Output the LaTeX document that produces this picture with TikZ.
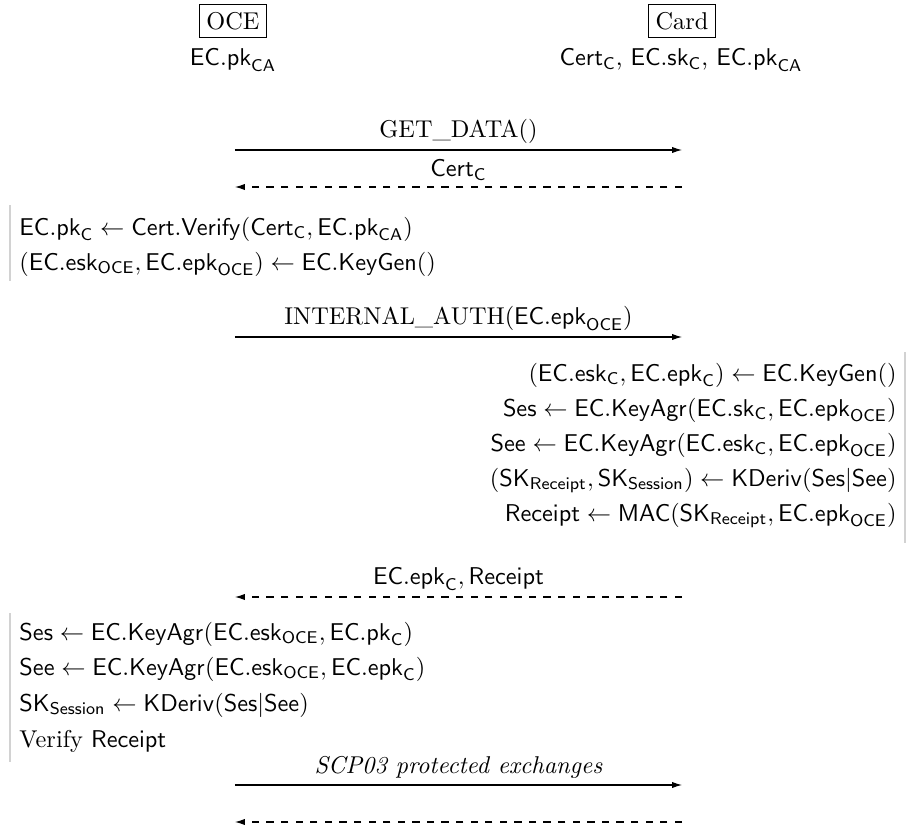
\documentclass[tikz,border=0pt]{standalone}
\usetikzlibrary{arrows.meta}
\newcommand{\cs}[1]{\mathsf{#1}}
\tikzset{
  party/.style={draw, inner sep=3pt, font=\rmfamily},
  msg/.style={line width=0.42pt, -{Latex[length=4.1pt,width=2.6pt]}},
  reply/.style={msg, dashed},
  lbl/.style={midway, above, inner sep=2.5pt},
  lstep/.style={anchor=base west, inner sep=0pt},
  rstep/.style={anchor=base east, inner sep=0pt},
  bar/.style={gray!35, line width=1pt}
}
\begin{document}
\begin{tikzpicture}[x=0.4115pt,y=-0.4115pt]
\useasboundingbox (0,0) rectangle (907,828);
% parties
\node[party] (oce) at (233,21) {OCE};
\node (oceinit) at (233,60) {$\cs{EC.pk}_{\cs{CA}}$};
\node[party] (card) at (682,21) {Card};
\node (cardinit) at (681,60) {$\cs{Cert}_{\cs{C}}$, $\cs{EC.sk}_{\cs{C}}$, $\cs{EC.pk}_{\cs{CA}}$};
% message 1
\coordinate (m1l) at (235,150); \coordinate (m1r) at (682,150);
\draw[msg] (m1l) -- (m1r) node[lbl] {GET\_DATA()};
\coordinate (m2l) at (235,187); \coordinate (m2r) at (682,187);
\draw[reply] (m2r) -- (m2l) node[lbl] {$\cs{Cert}_{\cs{C}}$};
% OCE block 1
\coordinate (b1t) at (10,205); \coordinate (b1b) at (10,281);
\draw[bar] (b1t) -- (b1b);
\node[lstep] (o1) at (19,235) {$\cs{EC.pk}_{\cs{C}} \leftarrow \cs{Cert.Verify}(\cs{Cert}_{\cs{C}}, \cs{EC.pk}_{\cs{CA}})$};
\node[lstep] (o2) at (19,270) {$(\cs{EC.esk}_{\cs{OCE}}, \cs{EC.epk}_{\cs{OCE}}) \leftarrow \cs{EC.KeyGen}()$};
% message 3
\coordinate (m3l) at (235,337); \coordinate (m3r) at (682,337);
\draw[msg] (m3l) -- (m3r) node[lbl] {INTERNAL\_AUTH($\cs{EC.epk}_{\cs{OCE}}$)};
% Card block
\coordinate (b2t) at (905,352); \coordinate (b2b) at (905,543);
\draw[bar] (b2t) -- (b2b);
\node[rstep] (c1) at (897,381) {$(\cs{EC.esk}_{\cs{C}}, \cs{EC.epk}_{\cs{C}}) \leftarrow \cs{EC.KeyGen}()$};
\node[rstep] (c2) at (897,416) {$\cs{Ses} \leftarrow \cs{EC.KeyAgr}(\cs{EC.sk}_{\cs{C}}, \cs{EC.epk}_{\cs{OCE}})$};
\node[rstep] (c3) at (897,451) {$\cs{See} \leftarrow \cs{EC.KeyAgr}(\cs{EC.esk}_{\cs{C}}, \cs{EC.epk}_{\cs{OCE}})$};
\node[rstep] (c4) at (897,486) {$(\cs{SK}_{\cs{Receipt}}, \cs{SK}_{\cs{Session}}) \leftarrow \cs{KDeriv}(\cs{Ses}|\cs{See})$};
\node[rstep] (c5) at (897,521) {$\cs{Receipt} \leftarrow \cs{MAC}(\cs{SK}_{\cs{Receipt}}, \cs{EC.epk}_{\cs{OCE}})$};
% message 4
\coordinate (m4l) at (235,597); \coordinate (m4r) at (682,597);
\draw[reply] (m4r) -- (m4l) node[lbl] {$\cs{EC.epk}_{\cs{C}}, \cs{Receipt}$};
% OCE block 2
\coordinate (b3t) at (10,613); \coordinate (b3b) at (10,762);
\draw[bar] (b3t) -- (b3b);
\node[lstep] (o3) at (19,640) {$\cs{Ses} \leftarrow \cs{EC.KeyAgr}(\cs{EC.esk}_{\cs{OCE}}, \cs{EC.pk}_{\cs{C}})$};
\node[lstep] (o4) at (19,675) {$\cs{See} \leftarrow \cs{EC.KeyAgr}(\cs{EC.esk}_{\cs{OCE}}, \cs{EC.epk}_{\cs{C}})$};
\node[lstep] (o5) at (19,711) {$\cs{SK}_{\cs{Session}} \leftarrow \cs{KDeriv}(\cs{Ses}|\cs{See})$};
\node[lstep] (o6) at (19,747) {Verify $\cs{Receipt}$};
% secure channel
\coordinate (m5l) at (235,785); \coordinate (m5r) at (682,785);
\draw[msg] (m5l) -- (m5r) node[lbl] {\textit{SCP03 protected exchanges}};
\coordinate (m6l) at (235,822); \coordinate (m6r) at (682,822);
\draw[reply] (m6r) -- (m6l);
\end{tikzpicture}
\end{document}
